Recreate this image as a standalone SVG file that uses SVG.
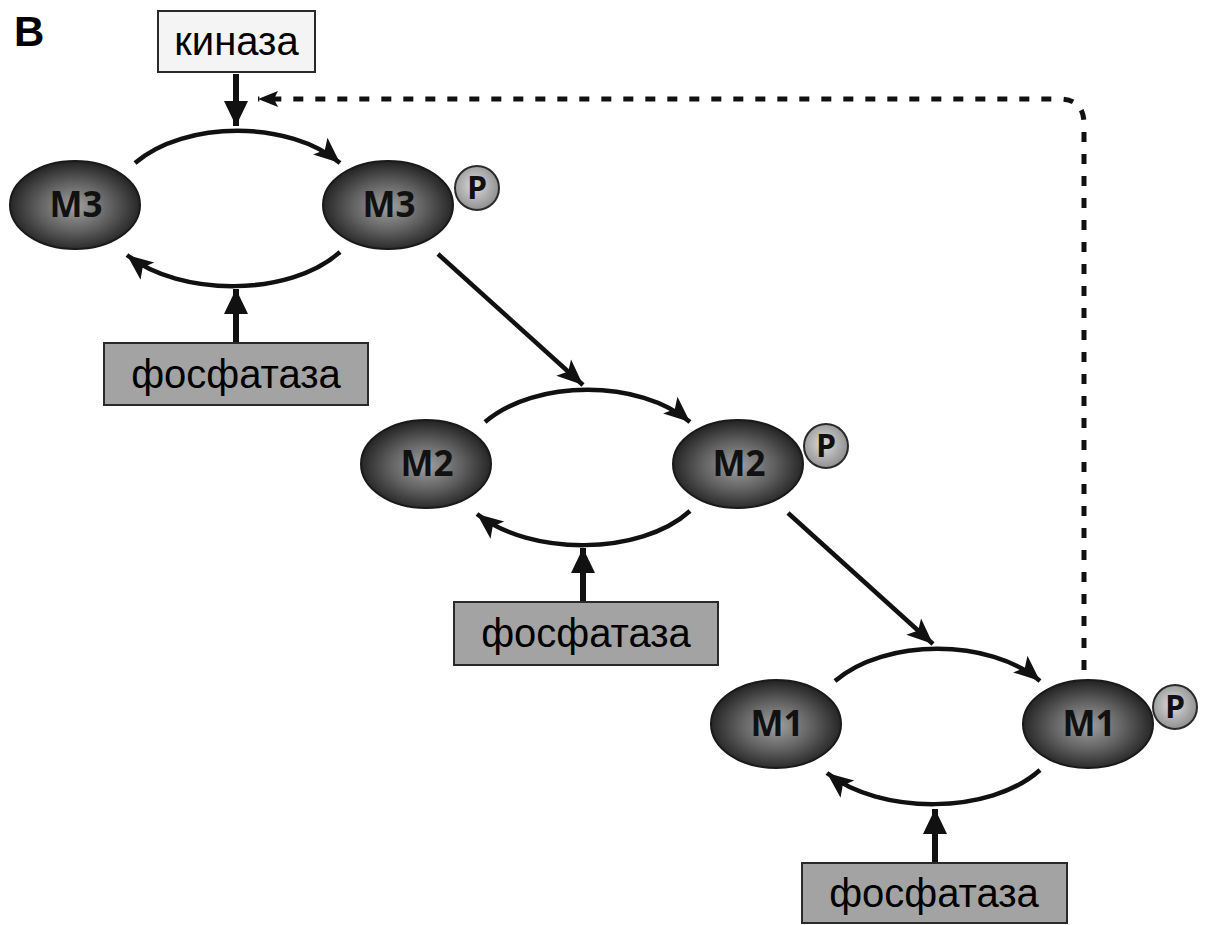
<svg xmlns="http://www.w3.org/2000/svg" width="1207" height="925" viewBox="0 0 1207 925">
<style>
.box{stroke:#2a2a2a;stroke-width:2}
.kin{fill:#f4f4f4}
.fos{fill:#a3a3a3}
.lbl{font-family:"Liberation Sans",Arial,sans-serif;font-size:40px;fill:#000;text-anchor:middle}
.mol{fill:url(#gMol);stroke:#1a1a1a;stroke-width:2}
.mt{font-family:"Open Sans","Liberation Sans",sans-serif;font-weight:700;font-size:35px;fill:#111;text-anchor:middle}
.p{fill:url(#gP);stroke:#2a2a2a;stroke-width:2}
.pt{font-family:"Open Sans","Liberation Sans",sans-serif;font-weight:700;font-size:32px;fill:#111;text-anchor:middle}
.arc{fill:none;stroke:#111;stroke-width:4.5;marker-end:url(#ah)}
.thick{fill:none;stroke:#111;stroke-width:6;marker-end:url(#ahb)}
.dash{fill:none;stroke:#111;stroke-width:5;stroke-dasharray:10 12;marker-end:url(#ahd)}
</style>
<defs>
<radialGradient id="gMol" cx="50%" cy="52%" r="55%">
<stop offset="0" stop-color="#a0a0a0"/>
<stop offset="0.5" stop-color="#616161"/>
<stop offset="1" stop-color="#1a1a1a"/>
</radialGradient>
<radialGradient id="gP" cx="45%" cy="45%" r="60%">
<stop offset="0" stop-color="#dcdcdc"/>
<stop offset="1" stop-color="#8a8a8a"/>
</radialGradient>
<marker id="ah" markerUnits="userSpaceOnUse" markerWidth="40" markerHeight="40" viewBox="0 0 40 40" refX="30" refY="20" orient="auto">
<path d="M4,9 L30,20 L4,31 L10,20 Z" fill="#111"/>
</marker>
<marker id="ahb" markerUnits="userSpaceOnUse" markerWidth="40" markerHeight="40" viewBox="0 0 40 40" refX="30" refY="20" orient="auto">
<path d="M5,8 L30,20 L5,32 Z" fill="#111"/>
</marker>
<marker id="ahd" markerUnits="userSpaceOnUse" markerWidth="40" markerHeight="40" viewBox="0 0 40 40" refX="30" refY="20" orient="auto">
<path d="M10,12 L30,20 L10,28 L14,20 Z" fill="#111"/>
</marker>
</defs>
<rect width="1207" height="925" fill="#fff"/>
<text x="14" y="46" font-family="Liberation Sans,Arial,sans-serif" font-weight="bold" font-size="42" fill="#000">B</text>

<g id="connectors">
<line class="thick" x1="236" y1="74" x2="236" y2="126"/>
<path class="dash" d="M1084,670 L1084,124 Q1084,99 1059,99 L258,99"/>
<path class="arc" d="M135,163 C185,120 290,120 340,163"/>
<path class="arc" d="M340,252 C290,297 180,297 127,255"/>
<line class="thick" x1="236" y1="342" x2="236" y2="289"/>
<line class="arc" x1="438" y1="254" x2="583" y2="385"/>
<path class="arc" d="M485,422 C535,379 640,379 690,422"/>
<path class="arc" d="M690,511 C640,556 530,556 477,514"/>
<line class="thick" x1="583" y1="601" x2="583" y2="548"/>
<line class="arc" x1="788" y1="513" x2="933" y2="644"/>
<path class="arc" d="M835,681 C885,638 990,638 1040,681"/>
<path class="arc" d="M1040,770 C990,815 880,815 827,773"/>
<line class="thick" x1="935" y1="862" x2="935" y2="809"/>
</g>

<g id="kinase">
<rect class="box kin" x="158" y="11" width="157" height="61"/>
<text class="lbl" x="236.5" y="55">киназа</text>
</g>

<g id="m3">
<ellipse class="mol" cx="75" cy="205" rx="65" ry="44"/>
<text class="mt" x="76" y="217">M3</text>
</g>
<g id="m3p">
<ellipse class="mol" cx="388" cy="205" rx="65" ry="44"/>
<text class="mt" x="389" y="217">M3</text>
<circle class="p" cx="477" cy="188" r="22"/>
<text class="pt" x="477" y="199">P</text>
</g>
<g id="fosfataza1">
<rect class="box fos" x="104" y="343" width="264" height="62"/>
<text class="lbl" x="236" y="388">фосфатаза</text>
</g>

<g id="m2">
<ellipse class="mol" cx="426" cy="464" rx="65" ry="44"/>
<text class="mt" x="427" y="476">M2</text>
</g>
<g id="m2p">
<ellipse class="mol" cx="738" cy="464" rx="65" ry="44"/>
<text class="mt" x="739" y="476">M2</text>
<circle class="p" cx="826" cy="446" r="22"/>
<text class="pt" x="826" y="457">P</text>
</g>
<g id="fosfataza2">
<rect class="box fos" x="454" y="602" width="264" height="63"/>
<text class="lbl" x="586" y="647">фосфатаза</text>
</g>

<g id="m1">
<ellipse class="mol" cx="776" cy="724" rx="65" ry="44"/>
<text class="mt" x="777" y="736">M1</text>
</g>
<g id="m1p">
<ellipse class="mol" cx="1088" cy="724" rx="65" ry="44"/>
<text class="mt" x="1089" y="736">M1</text>
<circle class="p" cx="1175" cy="707" r="22"/>
<text class="pt" x="1175" y="718">P</text>
</g>
<g id="fosfataza3">
<rect class="box fos" x="802" y="863" width="265" height="60"/>
<text class="lbl" x="934" y="907">фосфатаза</text>
</g>
</svg>
